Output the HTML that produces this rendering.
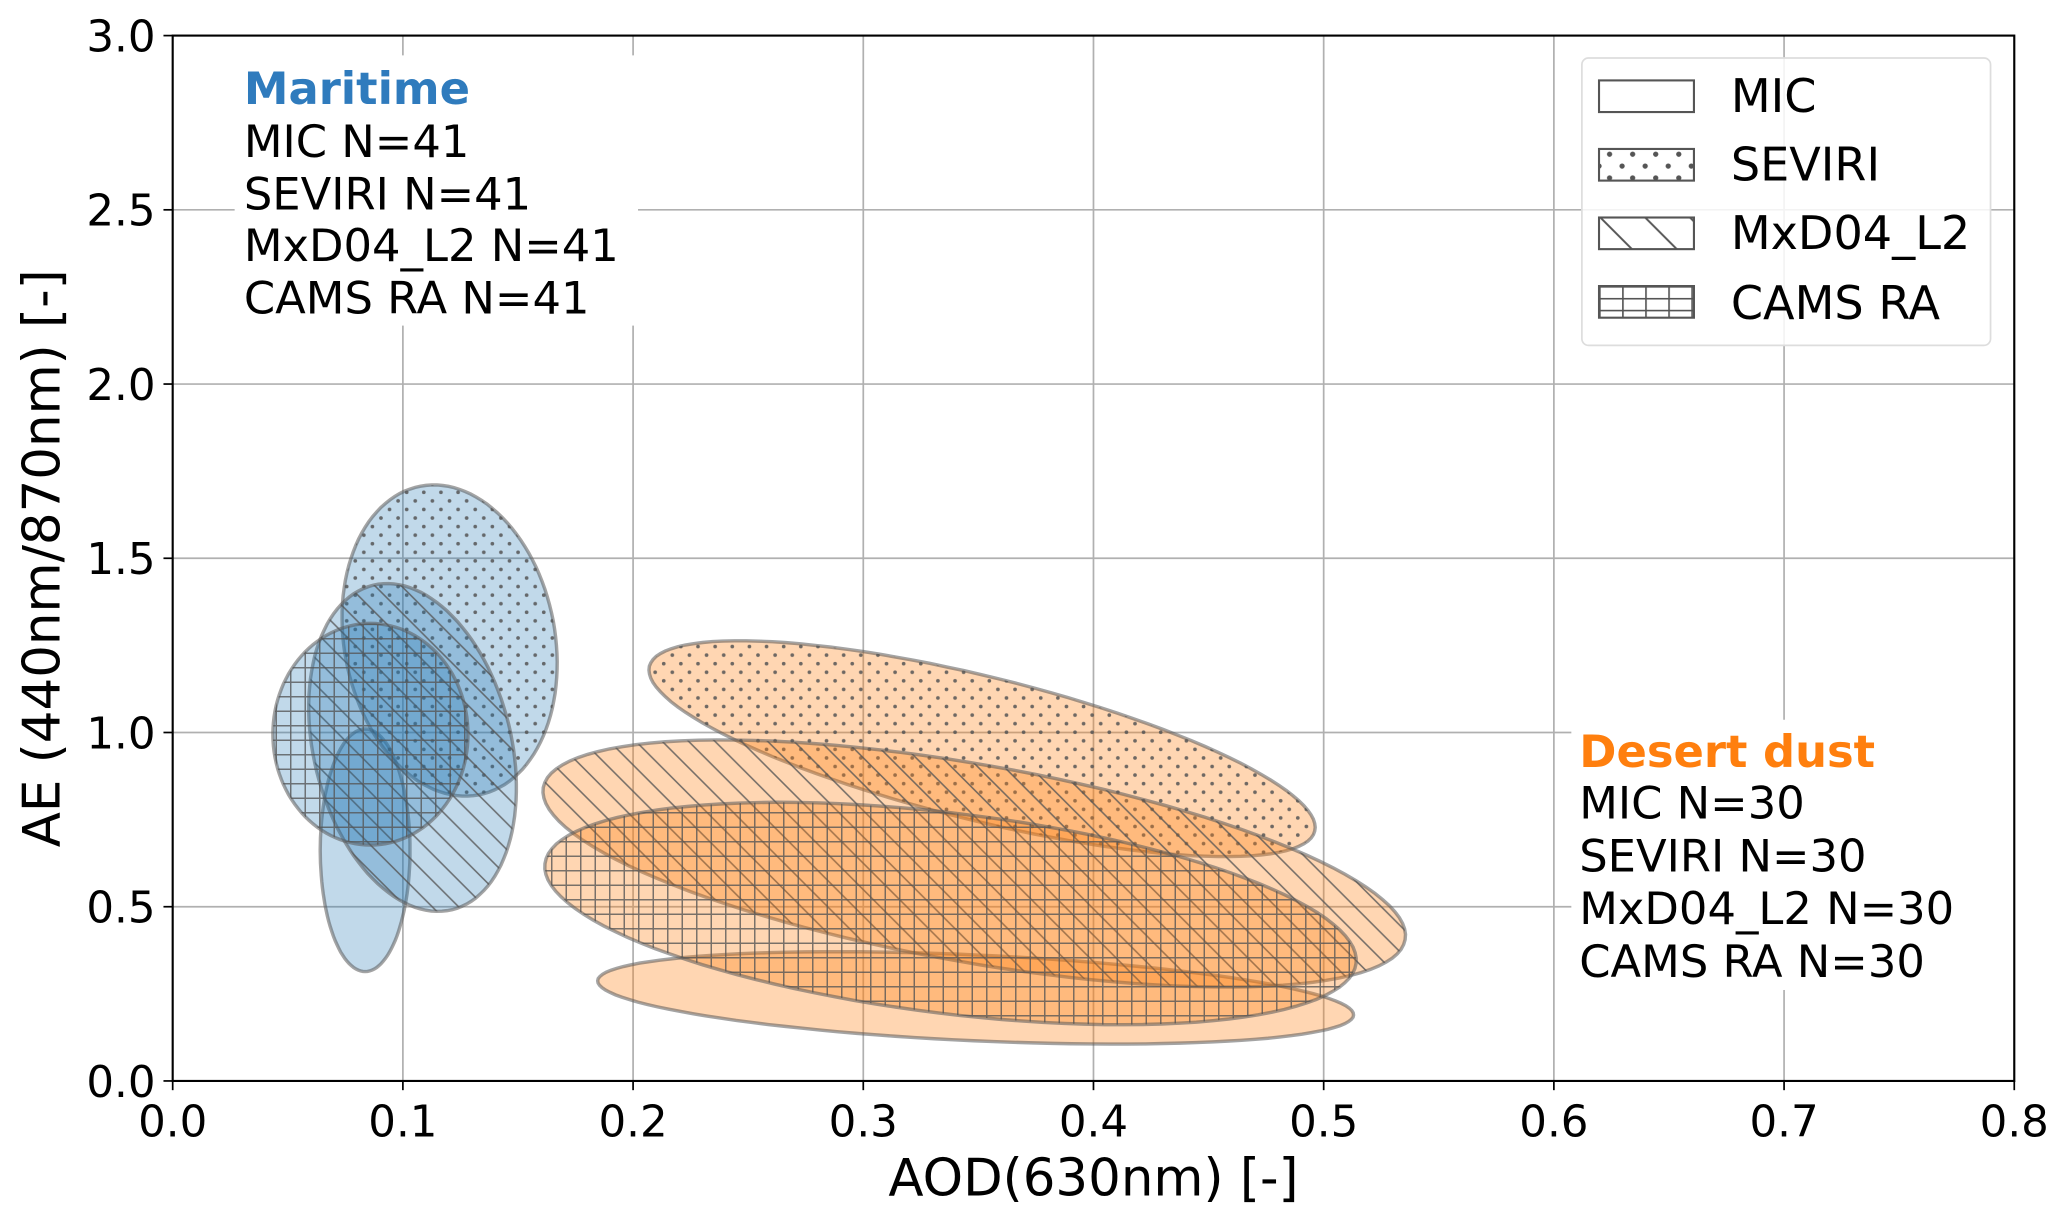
<!DOCTYPE html>
<html><head><meta charset="utf-8"><style>
html,body{margin:0;padding:0;background:#fff;}
svg{display:block;font-family:"DejaVu Sans","Liberation Sans",sans-serif;}
</style></head><body>
<svg id="chart" width="2067" height="1222" viewBox="0 0 1568 927" preserveAspectRatio="none" xmlns="http://www.w3.org/2000/svg">
<defs>
<pattern id="dots" patternUnits="userSpaceOnUse" width="13" height="13"><circle cx="3" cy="3" r="1.4" fill="#555" fill-opacity="0.85"/><circle cx="9.5" cy="9.5" r="1.4" fill="#555" fill-opacity="0.85"/></pattern>
<pattern id="hatch" patternUnits="userSpaceOnUse" width="20" height="20"><path d="M-5,-5 L25,25 M-5,15 L5,25 M15,-5 L25,5" stroke="#555" stroke-opacity="0.8" stroke-width="1.2"/></pattern>
<pattern id="grid" patternUnits="userSpaceOnUse" width="11" height="11"><path d="M0,0.5 H11 M0.5,0 V11" stroke="#555" stroke-opacity="0.8" stroke-width="1.2" fill="none"/></pattern>
<pattern id="ldots" patternUnits="userSpaceOnUse" width="17.5" height="18" x="1213" y="112"><circle cx="8" cy="5" r="2" fill="#555"/><circle cx="0" cy="14" r="2" fill="#555"/><circle cx="17.5" cy="14" r="2" fill="#555"/></pattern>
<pattern id="lhatch" patternUnits="userSpaceOnUse" width="34" height="34" x="1213" y="164"><path d="M-2,-2 L36,36 M-36,-2 L2,36 M32,-2 L70,36" stroke="#555" stroke-width="1.5"/></pattern>
<pattern id="lgrid" patternUnits="userSpaceOnUse" width="17.5" height="9" x="1213" y="217"><path d="M0,0.5 H17.5 M0.5,0 V9" stroke="#555" stroke-width="1.5" fill="none"/></pattern>
</defs>
<g id="gridlines"></g>
<g id="ellipses"></g>
<g id="annot">
  <rect x="178" y="42" width="306" height="205" fill="#fff"/>
  <text x="185" y="79" font-size="34" font-weight="bold" fill="#2f7bbd">Maritime</text>
  <text x="185" y="119" font-size="34">MIC N=41</text>
  <text x="185" y="159" font-size="34">SEVIRI N=41</text>
  <text x="185" y="198" font-size="34">MxD04_L2 N=41</text>
  <text x="185" y="238" font-size="34">CAMS RA N=41</text>
  <rect x="1192" y="546" width="336" height="205" fill="#fff"/>
  <text x="1198" y="582" font-size="34" font-weight="bold" fill="#ff7f0e">Desert dust</text>
  <text x="1198" y="621" font-size="34">MIC N=30</text>
  <text x="1198" y="661" font-size="34">SEVIRI N=30</text>
  <text x="1198" y="701" font-size="34">MxD04_L2 N=30</text>
  <text x="1198" y="741" font-size="34">CAMS RA N=30</text>
</g>
<g id="axes"></g>
<g id="legend">
  <rect x="1200" y="44" width="310" height="218" rx="5" fill="#fff" fill-opacity="0.85" stroke="#ddd" stroke-width="1.3"/>
  <rect x="1213" y="61" width="72" height="24" fill="none" stroke="#555" stroke-width="1.6"/>
  <text x="1313" y="85" font-size="35">MIC</text>
  <rect x="1213" y="113" width="72" height="24" fill="url(#ldots)" stroke="#555" stroke-width="1.6"/>
  <text x="1313" y="137" font-size="35">SEVIRI</text>
  <rect x="1213" y="165" width="72" height="24" fill="url(#lhatch)" stroke="#555" stroke-width="1.6"/>
  <text x="1313" y="189" font-size="35">MxD04_L2</text>
  <rect x="1213" y="217" width="72" height="24" fill="url(#lgrid)" stroke="#555" stroke-width="1.6"/>
  <text x="1313" y="242" font-size="35">CAMS RA</text>
</g>
</svg>
<script>
// data arrays
const xTicks = [0.0,0.1,0.2,0.3,0.4,0.5,0.6,0.7,0.8];
const yTicks = [0.0,0.5,1.0,1.5,2.0,2.5,3.0];
const ellNames = ['maritime-mic','maritime-seviri','maritime-mxd04','maritime-cams','dust-mic','dust-seviri','dust-mxd04','dust-cams'];
const ellGroup = ['maritime','maritime','maritime','maritime','dust','dust','dust','dust'];
const ellHatch = ['none','dots','hatch','grid','none','dots','hatch','grid'];
const centerAOD = [0.0836,0.1203,0.1042,0.0859,0.3488,0.3516,0.3482,0.3379];
const centerAE = [0.662,1.264,0.957,0.995,0.2384,0.9535,0.624,0.4805];
const axis1AOD = [0.0195,-0.0126,-0.0172,0.0424,0.1642,0.1445,0.1872,0.1762];
const axis1AE = [0.0,0.443,0.4654,0.0,-0.0492,-0.2365,-0.2183,-0.143];
const axis2AOD = [0.0,0.045,0.0417,0.0,-0.00084,-0.0075,-0.00745,-0.0053];
const axis2AE = [0.348,0.056,0.0673,0.318,-0.123,-0.2,-0.2795,-0.2853];

const NS='http://www.w3.org/2000/svg';
const L=131,R=1528,T=27,B=820;
const xs=v=>L+(v-0)/(0.8-0)*(R-L);
const ys=v=>B-(v-0)/(3.0-0)*(B-T);
function mk(tag,attrs,parent){const e=document.createElementNS(NS,tag);for(const k in attrs)e.setAttribute(k,attrs[k]);parent.appendChild(e);return e;}

const gg=document.getElementById('gridlines');
xTicks.forEach(t=>{const l=mk('line',{x1:xs(t),x2:xs(t),y1:T,y2:B,stroke:'#b0b0b0','stroke-width':1.3},gg);

});
yTicks.forEach(t=>{const l=mk('line',{x1:L,x2:R,y1:ys(t),y2:ys(t),stroke:'#b0b0b0','stroke-width':1.3},gg);

});

const eg=document.getElementById('ellipses');
for(let i=0;i<ellNames.length;i++){
  let d='';
  for(let k=0;k<=120;k++){const t=k/120*2*Math.PI;
    const ax=centerAOD[i]+axis1AOD[i]*Math.cos(t)+axis2AOD[i]*Math.sin(t);
    const ay=centerAE[i]+axis1AE[i]*Math.cos(t)+axis2AE[i]*Math.sin(t);
    d+=(k?'L':'M')+xs(ax).toFixed(1)+','+ys(ay).toFixed(1);}
  d+='Z';
  const col=ellGroup[i]==='maritime'?'rgba(31,119,180,0.28)':'rgba(255,127,14,0.32)';
  const g=mk('g',{},eg);
  
  
  mk('path',{d:d,fill:col},g);
  if(ellHatch[i]!=='none')mk('path',{d:d,fill:'url(#'+ellHatch[i]+')'},g);
  mk('path',{d:d,fill:'none',stroke:'rgba(90,90,90,0.55)','stroke-width':2.6},g);
}

const ag=document.getElementById('axes');
mk('rect',{x:L,y:T,width:R-L,height:B-T,fill:'none',stroke:'#000','stroke-width':1.6},ag);
xTicks.forEach(t=>{mk('line',{x1:xs(t),x2:xs(t),y1:B,y2:B+7,stroke:'#000','stroke-width':1.3},ag);
const tx=mk('text',{x:xs(t),y:B+42,'font-size':33,'text-anchor':'middle'},ag);tx.textContent=t.toFixed(1);

});
yTicks.forEach(t=>{mk('line',{x1:L-7,x2:L,y1:ys(t),y2:ys(t),stroke:'#000','stroke-width':1.3},ag);
const tx=mk('text',{x:L-13,y:ys(t)+12,'font-size':33,'text-anchor':'end'},ag);tx.textContent=t.toFixed(1);

});
const xl=mk('text',{x:(L+R)/2,y:907,'font-size':39,'text-anchor':'middle'},ag);xl.textContent='AOD(630nm) [-]';


const yl=mk('text',{x:0,y:0,'font-size':39,'text-anchor':'middle',transform:'translate(45,'+((T+B)/2)+') rotate(-90)'},ag);yl.textContent='AE (440nm/870nm) [-]';


</script>
</body></html>
